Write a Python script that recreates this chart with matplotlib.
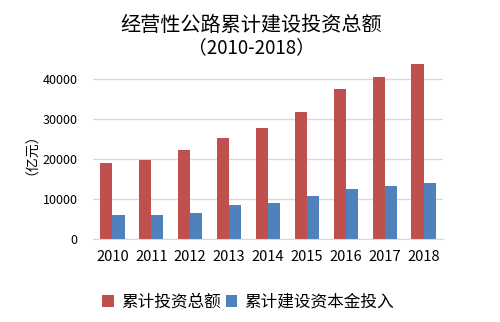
import matplotlib
matplotlib.use("Agg")
import matplotlib.pyplot as plt
import numpy as np

plt.rcParams['font.family'] = ['Noto Sans CJK SC', 'DejaVu Sans']

years = ['2010', '2011', '2012', '2013', '2014', '2015', '2016', '2017', '2018']
total_invest = [19100, 19800, 22300, 25300, 27800, 31800, 37600, 40700, 43800]
capital_invest = [6100, 6100, 6600, 8600, 9100, 10800, 12600, 13300, 14100]

red = '#C0504D'
blue = '#4F81BD'

fig = plt.figure(figsize=(5, 3.22), dpi=100)
ax = fig.add_axes([0.186, 0.257, 0.70, 0.571])

x = np.arange(len(years))
w = 0.31
ax.bar(x - w / 2, total_invest, w, color=red, label='累计投资总额')
ax.bar(x + w / 2, capital_invest, w, color=blue, label='累计建设资本金投入')

ax.set_xlim(-0.5, len(years) - 0.5)
ax.set_ylim(0, 46000)
ax.set_yticks([0, 10000, 20000, 30000, 40000])
ax.set_xticks(x)
ax.set_xticklabels(years, fontsize=10.5)
ax.tick_params(axis='y', labelsize=9, length=0, pad=11)
ax.tick_params(axis='x', length=0, pad=8)
ax.grid(axis='y', color='#d9d9d9', linewidth=1)
ax.set_axisbelow(True)
for s in ['top', 'right', 'left']:
    ax.spines[s].set_visible(False)
ax.spines['bottom'].set_color('#d9d9d9')

ax.set_ylabel('（亿元）', fontsize=10, labelpad=8)

fig.text(0.502, 0.92, '经营性公路累计建设投资总额', ha='center', va='center', fontsize=14.5)
fig.text(0.502, 0.852, '（2010-2018）', ha='center', va='center', fontsize=13.5)

fig.legend(loc='center', bbox_to_anchor=(0.496, 0.062), ncol=2, frameon=False,
           fontsize=12, handlelength=0.7, handleheight=0.7, handletextpad=0.4,
           columnspacing=0.3)

fig.savefig('out.png', dpi=100)
